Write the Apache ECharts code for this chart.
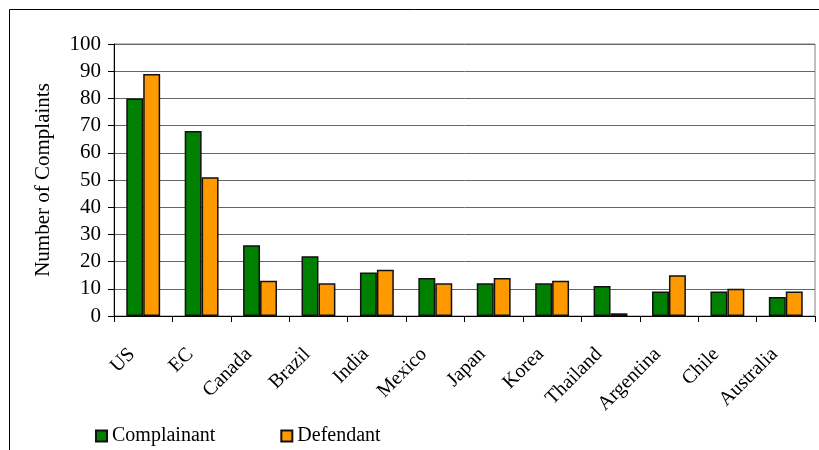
<!DOCTYPE html>
<html><head><meta charset="utf-8">
<script src="https://cdn.jsdelivr.net/npm/echarts@6/dist/echarts.min.js"></script>
<style>html,body{margin:0;padding:0;background:#fff}#c{width:819px;height:450px}</style>
</head><body><div id="c"></div>
<script>
var categories = ["US","EC","Canada","Brazil","India","Mexico","Japan","Korea","Thailand","Argentina","Chile","Australia"];
var complainant = [80,68,26,22,16,14,12,12,11,9,9,7];
var defendant = [89,51,13,12,17,12,14,13,1,15,10,9];
var yTicks = {min:0, max:100, interval:10};

var font = "Liberation Serif";
var chart = echarts.init(document.getElementById('c'), null, {renderer:'canvas'});
chart.setOption({
  animation:false,
  backgroundColor:'#fff',
  graphic:[{type:'rect', shape:{x:9.5,y:9.5,width:900,height:600}, style:{fill:'none',stroke:'#000',lineWidth:1}, z:-1}],
  grid:{left:114, right:4, top:44, bottom:134, containLabel:false,
        show:true, borderColor:'#808080', borderWidth:1},
  legend:{top:421, left:90, itemWidth:11, itemHeight:11, itemGap:65,
          icon:'rect',
          textStyle:{fontFamily:font, fontSize:20, color:'#000'},
          data:['Complainant','Defendant']},
  xAxis:{type:'category', data:categories,
         axisLine:{lineStyle:{color:'#000', width:1}},
         axisTick:{show:true, length:6, lineStyle:{color:'#000'}},
         axisLabel:{rotate:45, margin:24, padding:[0,16,0,0], interval:0, fontFamily:font, fontSize:20, color:'#000'}},
  yAxis:{type:'value', min:yTicks.min, max:yTicks.max, interval:yTicks.interval,
         name:'Number of Complaints', nameLocation:'middle', nameGap:60, nameRotate:90,
         nameTextStyle:{fontFamily:font, fontSize:21, color:'#000'},
         axisLine:{show:true, lineStyle:{color:'#000'}},
         axisTick:{show:true, inside:false, length:6, lineStyle:{color:'#000'}},
         axisLabel:{margin:13, fontFamily:font, fontSize:21, color:'#000'},
         splitLine:{lineStyle:{color:'#666', width:1}}},
  series:[
    {name:'Complainant', type:'bar', data:complainant, barGap:'0%', barCategoryGap:'42%',
     itemStyle:{color:'#008000', borderColor:'#111', borderWidth:1.5}},
    {name:'Defendant', type:'bar', data:defendant,
     itemStyle:{color:'#FF9900', borderColor:'#111', borderWidth:1.5}}
  ]
});
</script></body></html>
